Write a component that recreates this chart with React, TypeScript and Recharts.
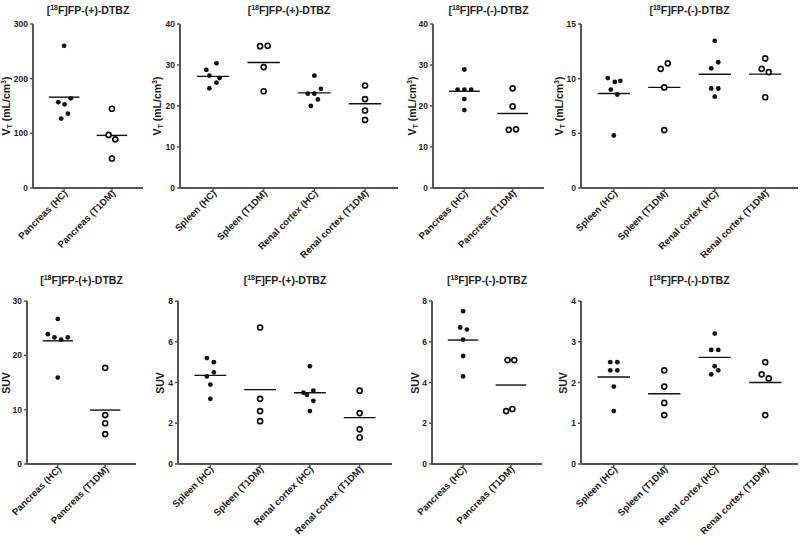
import { ScatterChart, Scatter, XAxis, YAxis, ReferenceLine } from 'recharts'

const PANCREAS = ['Pancreas (HC)', 'Pancreas (T1DM)']
const ORGANS = ['Spleen (HC)', 'Spleen (T1DM)', 'Renal cortex (HC)', 'Renal cortex (T1DM)']

// VT, [18F]FP-(+)-DTBZ
const vtPlusPancreas = [
  [260, 157, 153, 164, 136, 127],
  [145, 97, 89, 54],
]
const vtPlusPancreasJitter = [
  [0, -0.12, 0.01, 0.14, 0.08, -0.06],
  [0, -0.07, 0.07, 0],
]
const vtPlusOrgans = [
  [30.4, 28.8, 27.4, 26.8, 25.7, 24.3],
  [34.6, 34.7, 29.5, 23.6],
  [27.4, 24.2, 23.0, 23.0, 21.6, 20.0],
  [25.0, 21.7, 18.9, 16.6],
]
const vtPlusOrgansJitter = [
  [0.07, -0.13, -0.07, 0.13, 0.07, -0.07],
  [-0.07, 0.08, 0, 0],
  [0, 0.13, -0.13, 0, 0.07, -0.07],
  [0, 0, 0, 0],
]

// VT, [18F]FP-(-)-DTBZ
const vtMinusPancreas = [
  [28.9, 24.0, 24.0, 24.0, 21.7, 19.0],
  [24.3, 19.9, 14.2, 14.3],
]
const vtMinusPancreasJitter = [
  [0, -0.14, 0, 0.14, 0, 0],
  [0, 0, -0.08, 0.07],
]
const vtMinusOrgans = [
  [10.05, 9.7, 9.8, 9.0, 8.55, 4.8],
  [10.9, 11.4, 9.2, 5.3],
  [13.45, 11.5, 10.95, 9.1, 9.1, 8.35],
  [11.85, 10.9, 10.6, 8.3],
]
const vtMinusOrgansJitter = [
  [-0.12, 0.02, 0.13, -0.06, 0.07, 0],
  [-0.07, 0.07, 0, 0],
  [0, 0.07, -0.07, -0.07, 0.07, 0],
  [0, -0.07, 0.07, 0],
]

// SUV, [18F]FP-(+)-DTBZ
const suvPlusPancreas = [
  [26.7, 23.9, 23.3, 22.9, 23.3, 15.9],
  [17.7, 9.0, 7.5, 5.5],
]
const suvPlusPancreasJitter = [
  [0, -0.21, -0.07, 0.07, 0.21, 0],
  [0, 0, 0, 0],
]
const suvPlusOrgans = [
  [5.2, 5.0, 4.5, 4.3, 3.9, 3.2],
  [6.7, 3.2, 2.6, 2.1],
  [4.8, 3.5, 3.4, 3.6, 3.1, 2.6],
  [3.6, 2.5, 1.7, 1.3],
]
const suvPlusOrgansJitter = [
  [-0.07, 0.07, 0.07, -0.07, 0, 0],
  [0, 0, 0, 0],
  [0, -0.13, -0.06, 0.07, 0.07, 0],
  [0, 0, 0, 0],
]

// SUV, [18F]FP-(-)-DTBZ
const suvMinusPancreas = [
  [7.5, 6.7, 6.6, 6.1, 5.3, 4.3],
  [5.1, 5.1, 2.6, 2.7],
]
const suvMinusPancreasJitter = [
  [0, -0.06, 0.08, 0, 0, 0],
  [-0.07, 0.07, -0.1, 0.03],
]
const suvMinusOrgans = [
  [2.5, 2.5, 2.3, 2.3, 1.9, 1.3],
  [2.3, 1.9, 1.5, 1.2],
  [3.2, 2.8, 2.8, 2.4, 2.3, 2.2],
  [2.5, 2.2, 2.1, 1.2],
]
const suvMinusOrgansJitter = [
  [-0.07, 0.07, -0.07, 0.07, 0, 0],
  [0, 0, 0, 0],
  [0, -0.07, 0.07, 0, 0.07, -0.07],
  [0, -0.07, 0.07, 0],
]

const FONT = '"Liberation Sans", Arial, sans-serif'
const AXIS = '#555'
const INK = '#1c1c1c'

type Panel = {
  tracer: string
  metric: 'vt' | 'suv'
  names: string[]
  values: number[][]
  jitter: number[][]
  yMax: number
  yTicks: number[]
  box: { left: number; top: number; w: number; h: number }
  plot: { x0: number; x1: number; y0: number; y1: number }
  labelGap: number
}

const panels: Panel[] = [
  { tracer: '(+)', metric: 'vt', names: PANCREAS, values: vtPlusPancreas, jitter: vtPlusPancreasJitter, yMax: 300, yTicks: [0, 100, 200, 300],
    box: { left: 0, top: 0, w: 150, h: 268 }, plot: { x0: 33, x1: 143, y0: 24, y1: 188 }, labelGap: 26 },
  { tracer: '(+)', metric: 'vt', names: ORGANS, values: vtPlusOrgans, jitter: vtPlusOrgansJitter, yMax: 40, yTicks: [0, 10, 20, 30, 40],
    box: { left: 150, top: 0, w: 250, h: 268 }, plot: { x0: 180, x1: 398, y0: 24, y1: 188 }, labelGap: 22 },
  { tracer: '(-)', metric: 'vt', names: PANCREAS, values: vtMinusPancreas, jitter: vtMinusPancreasJitter, yMax: 40, yTicks: [0, 10, 20, 30, 40],
    box: { left: 400, top: 0, w: 150, h: 268 }, plot: { x0: 433, x1: 544, y0: 24, y1: 188 }, labelGap: 20 },
  { tracer: '(-)', metric: 'vt', names: ORGANS, values: vtMinusOrgans, jitter: vtMinusOrgansJitter, yMax: 15, yTicks: [0, 5, 10, 15],
    box: { left: 550, top: 0, w: 250, h: 268 }, plot: { x0: 581, x1: 798, y0: 24, y1: 188 }, labelGap: 21 },
  { tracer: '(+)', metric: 'suv', names: PANCREAS, values: suvPlusPancreas, jitter: suvPlusPancreasJitter, yMax: 30, yTicks: [0, 10, 20, 30],
    box: { left: 0, top: 270, w: 150, h: 267 }, plot: { x0: 27, x1: 136, y0: 301, y1: 464 }, labelGap: 21 },
  { tracer: '(+)', metric: 'suv', names: ORGANS, values: suvPlusOrgans, jitter: suvPlusOrgansJitter, yMax: 8, yTicks: [0, 2, 4, 6, 8],
    box: { left: 150, top: 270, w: 250, h: 267 }, plot: { x0: 178, x1: 392, y0: 301, y1: 464 }, labelGap: 18 },
  { tracer: '(-)', metric: 'suv', names: PANCREAS, values: suvMinusPancreas, jitter: suvMinusPancreasJitter, yMax: 8, yTicks: [0, 2, 4, 6, 8],
    box: { left: 400, top: 270, w: 150, h: 267 }, plot: { x0: 432, x1: 542, y0: 301, y1: 464 }, labelGap: 17 },
  { tracer: '(-)', metric: 'suv', names: ORGANS, values: suvMinusOrgans, jitter: suvMinusOrgansJitter, yMax: 4, yTicks: [0, 1, 2, 3, 4],
    box: { left: 550, top: 270, w: 250, h: 267 }, plot: { x0: 581, x1: 798, y0: 301, y1: 464 }, labelGap: 18 },
]

const mean = (a: number[]) => a.reduce((s, v) => s + v, 0) / a.length

function Dot(props: any) {
  const { cx, cy, open } = props
  if (cx == null || cy == null) return null
  return open
    ? <circle cx={cx} cy={cy} r={2.5} fill='#fff' stroke='#111' strokeWidth={1.7} />
    : <circle cx={cx} cy={cy} r={2.4} fill='#111' />
}

function CatTick({ x, y, payload, names }: any) {
  const name = names[Math.round(payload.value) - 1]
  return (
    <g transform={`translate(${x + 4},${y + 1}) rotate(-45)`}>
      <text textAnchor='end' fontSize={9.5} fontWeight={700} fontFamily={FONT} fill={INK}>{name}</text>
    </g>
  )
}

function PanelChart({ p }: { p: Panel }) {
  const { box, plot } = p
  const n = p.names.length
  const cats = p.names.map((_, i) => i + 1)
  return (
    <div style={{ position: 'absolute', left: box.left, top: box.top, width: box.w, height: box.h }}>
      <ScatterChart
        width={box.w}
        height={box.h}
        margin={{ top: plot.y0 - box.top, right: box.left + box.w - plot.x1, bottom: 0, left: 0 }}
      >
        <XAxis
          type='number'
          dataKey='x'
          domain={[0.35, n + 0.65]}
          ticks={cats}
          allowDataOverflow
          interval={0}
          height={box.top + box.h - plot.y1}
          axisLine={{ stroke: AXIS, strokeWidth: 2 }}
          tickLine={{ stroke: AXIS, strokeWidth: 1.5 }}
          tickSize={3}
          tickMargin={2}
          tick={<CatTick names={p.names} />}
        />
        <YAxis
          type='number'
          dataKey='y'
          domain={[0, p.yMax]}
          ticks={p.yTicks}
          allowDataOverflow
          interval={0}
          width={plot.x0 - box.left}
          axisLine={{ stroke: AXIS, strokeWidth: 2 }}
          tickLine={{ stroke: AXIS, strokeWidth: 1.5 }}
          tickSize={3}
          tickMargin={2}
          tick={{ fontSize: 8.5, fontWeight: 700, fontFamily: FONT, fill: INK }}
        />
        {p.values.map((vals, g) => (
          <Scatter
            key={g}
            data={vals.map((v, j) => ({ x: g + 1 + p.jitter[g][j], y: v }))}
            shape={<Dot open={g % 2 === 1} />}
            isAnimationActive={false}
          />
        ))}
        {p.values.map((vals, g) => (
          <ReferenceLine
            key={'m' + g}
            segment={[{ x: g + 1 - 0.32, y: mean(vals) }, { x: g + 1 + 0.32, y: mean(vals) }]}
            stroke='#111'
            strokeWidth={1.4}
          />
        ))}
      </ScatterChart>
    </div>
  )
}

function Title({ p }: { p: Panel }) {
  const cx = (p.plot.x0 + p.plot.x1) / 2
  return (
    <div style={{
      position: 'absolute', left: cx - 80, width: 160, top: p.box.top + 1, textAlign: 'center',
      fontFamily: FONT, fontWeight: 700, fontSize: 10.5, lineHeight: '14px', color: INK, whiteSpace: 'nowrap',
    }}>
      [<sup style={{ fontSize: 7, verticalAlign: 4 }}>18</sup>F]FP-{p.tracer}-DTBZ
    </div>
  )
}

function YLabel({ p }: { p: Panel }) {
  const cx = p.plot.x0 - p.labelGap
  const cy = (p.plot.y0 + p.plot.y1) / 2
  return (
    <div style={{
      position: 'absolute', left: cx, top: cy, transform: 'translate(-50%, -50%) rotate(-90deg)',
      fontFamily: FONT, fontWeight: 700, fontSize: 10.5, lineHeight: '14px', color: INK, whiteSpace: 'nowrap',
    }}>
      {p.metric === 'vt'
        ? <>V<sub style={{ fontSize: 7, verticalAlign: -2 }}>T</sub> (mL/cm<sup style={{ fontSize: 7, verticalAlign: 4 }}>3</sup>)</>
        : 'SUV'}
    </div>
  )
}

export default function App() {
  return (
    <div style={{ position: 'absolute', left: 0, top: 0, width: 800, height: 537, background: '#fff', overflow: 'hidden' }}>
      {panels.map((p, i) => <PanelChart key={i} p={p} />)}
      {panels.map((p, i) => <Title key={'t' + i} p={p} />)}
      {panels.map((p, i) => <YLabel key={'y' + i} p={p} />)}
    </div>
  )
}
